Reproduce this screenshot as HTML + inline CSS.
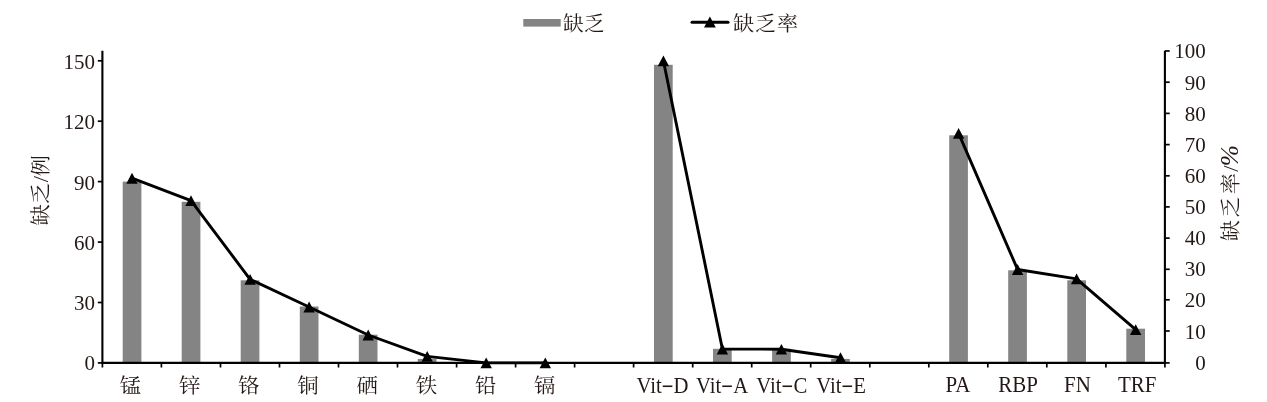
<!DOCTYPE html>
<html lang="zh"><head><meta charset="utf-8"><title>chart</title>
<style>html,body{margin:0;padding:0;background:#fff}body{width:1267px;height:402px;overflow:hidden}svg{display:block}text{font-family:"Liberation Serif","Noto Serif CJK SC",serif;fill:#231815}</style></head><body>
<svg width="1267" height="402" viewBox="0 0 1267 402">
<rect width="1267" height="402" fill="#fff"/>
<rect x="122.7" y="181.6" width="18.7" height="181.3" fill="#848484"/>
<rect x="181.7" y="201.8" width="18.7" height="161.1" fill="#848484"/>
<rect x="240.7" y="280.3" width="18.7" height="82.6" fill="#848484"/>
<rect x="299.8" y="306.5" width="18.7" height="56.4" fill="#848484"/>
<rect x="358.8" y="334.7" width="18.7" height="28.2" fill="#848484"/>
<rect x="417.8" y="358.9" width="18.7" height="4.0" fill="#848484"/>
<rect x="654.0" y="64.8" width="18.7" height="298.1" fill="#848484"/>
<rect x="713.0" y="348.8" width="18.7" height="14.1" fill="#848484"/>
<rect x="772.1" y="348.8" width="18.7" height="14.1" fill="#848484"/>
<rect x="831.1" y="358.9" width="18.7" height="4.0" fill="#848484"/>
<rect x="949.2" y="135.3" width="18.7" height="227.6" fill="#848484"/>
<rect x="1008.2" y="270.3" width="18.7" height="92.6" fill="#848484"/>
<rect x="1067.3" y="280.3" width="18.7" height="82.6" fill="#848484"/>
<rect x="1126.3" y="328.7" width="18.7" height="34.2" fill="#848484"/>
<g stroke="#000" stroke-width="2.1" fill="none">
<path d="M102.4 50.7V362.9H1164.9V50.7"/>
</g>
<g stroke="#000" stroke-width="1.7" fill="none">
<path d="M97.8 362.9H102.4"/>
<path d="M97.8 302.5H102.4"/>
<path d="M97.8 242.1H102.4"/>
<path d="M97.8 181.6H102.4"/>
<path d="M97.8 121.2H102.4"/>
<path d="M97.8 60.8H102.4"/>
<path d="M1164.9 362.9H1169.7"/>
<path d="M1164.9 331.0H1169.7"/>
<path d="M1164.9 299.8H1169.7"/>
<path d="M1164.9 269.3H1169.7"/>
<path d="M1164.9 238.1H1169.7"/>
<path d="M1164.9 206.9H1169.7"/>
<path d="M1164.9 175.8H1169.7"/>
<path d="M1164.9 144.6H1169.7"/>
<path d="M1164.9 113.4H1169.7"/>
<path d="M1164.9 82.2H1169.7"/>
<path d="M1164.9 51.0H1169.7"/>
<path d="M102.4 362.9V367.5"/>
<path d="M161.4 362.9V367.5"/>
<path d="M220.5 362.9V367.5"/>
<path d="M279.5 362.9V367.5"/>
<path d="M338.5 362.9V367.5"/>
<path d="M397.5 362.9V367.5"/>
<path d="M456.6 362.9V367.5"/>
<path d="M515.6 362.9V367.5"/>
<path d="M574.6 362.9V367.5"/>
<path d="M633.6 362.9V367.5"/>
<path d="M692.7 362.9V367.5"/>
<path d="M751.7 362.9V367.5"/>
<path d="M810.7 362.9V367.5"/>
<path d="M869.8 362.9V367.5"/>
<path d="M928.8 362.9V367.5"/>
<path d="M987.8 362.9V367.5"/>
<path d="M1046.8 362.9V367.5"/>
<path d="M1105.9 362.9V367.5"/>
<path d="M1164.9 362.9V367.5"/>
</g>
<polyline fill="none" stroke="#000" stroke-width="2.9" stroke-linejoin="round" stroke-linecap="round" points="132.0,178.2 191.0,200.6 250.1,279.3 309.1,307.0 368.2,335.0 427.2,356.4 486.2,362.9 545.3,362.9"/>
<polyline fill="none" stroke="#000" stroke-width="2.9" stroke-linejoin="round" stroke-linecap="round" points="663.4,60.8 722.4,349.0 781.4,349.2 840.5,357.7"/>
<polyline fill="none" stroke="#000" stroke-width="2.9" stroke-linejoin="round" stroke-linecap="round" points="958.6,133.3 1017.6,269.5 1076.6,278.9 1135.7,329.6"/>
<path d="M132.0 172.8L137.7 183.7L126.3 183.7Z" fill="#000"/>
<path d="M191.0 195.2L196.7 206.0L185.3 206.0Z" fill="#000"/>
<path d="M250.1 273.9L255.8 284.7L244.4 284.7Z" fill="#000"/>
<path d="M309.1 301.6L314.8 312.4L303.4 312.4Z" fill="#000"/>
<path d="M368.2 329.6L373.9 340.4L362.5 340.4Z" fill="#000"/>
<path d="M427.2 351.1L432.9 361.8L421.5 361.8Z" fill="#000"/>
<path d="M486.2 357.5L491.9 368.3L480.5 368.3Z" fill="#000"/>
<path d="M545.3 357.5L551.0 368.3L539.6 368.3Z" fill="#000"/>
<path d="M663.4 55.4L669.1 66.2L657.7 66.2Z" fill="#000"/>
<path d="M722.4 343.6L728.1 354.4L716.7 354.4Z" fill="#000"/>
<path d="M781.4 343.9L787.1 354.6L775.7 354.6Z" fill="#000"/>
<path d="M840.5 352.3L846.2 363.1L834.8 363.1Z" fill="#000"/>
<path d="M958.6 127.9L964.3 138.7L952.9 138.7Z" fill="#000"/>
<path d="M1017.6 264.1L1023.3 274.9L1011.9 274.9Z" fill="#000"/>
<path d="M1076.6 273.5L1082.3 284.3L1070.9 284.3Z" fill="#000"/>
<path d="M1135.7 324.2L1141.4 335.0L1130.0 335.0Z" fill="#000"/>
<text x="95.0" y="370.1" font-size="21.0" text-anchor="end">0</text>
<text x="95.0" y="309.9" font-size="21.0" text-anchor="end">30</text>
<text x="95.0" y="249.7" font-size="21.0" text-anchor="end">60</text>
<text x="95.0" y="189.5" font-size="21.0" text-anchor="end">90</text>
<text x="95.0" y="129.3" font-size="21.0" text-anchor="end">120</text>
<text x="95.0" y="69.1" font-size="21.0" text-anchor="end">150</text>
<text x="1205.7" y="369.7" font-size="21.0" text-anchor="end">0</text>
<text x="1205.7" y="338.6" font-size="21.0" text-anchor="end">10</text>
<text x="1205.7" y="307.4" font-size="21.0" text-anchor="end">20</text>
<text x="1205.7" y="276.3" font-size="21.0" text-anchor="end">30</text>
<text x="1205.7" y="245.2" font-size="21.0" text-anchor="end">40</text>
<text x="1205.7" y="214.1" font-size="21.0" text-anchor="end">50</text>
<text x="1205.7" y="182.9" font-size="21.0" text-anchor="end">60</text>
<text x="1205.7" y="151.8" font-size="21.0" text-anchor="end">70</text>
<text x="1205.7" y="120.7" font-size="21.0" text-anchor="end">80</text>
<text x="1205.7" y="89.5" font-size="21.0" text-anchor="end">90</text>
<text x="1205.7" y="58.4" font-size="21.0" text-anchor="end">100</text>
<text transform="translate(130.4,393.4) scale(1.05,1)" font-size="20.4" text-anchor="middle">锰</text>
<text transform="translate(189.6,393.4) scale(1.05,1)" font-size="20.4" text-anchor="middle">锌</text>
<text transform="translate(248.8,393.4) scale(1.05,1)" font-size="20.4" text-anchor="middle">铬</text>
<text transform="translate(308.0,393.4) scale(1.05,1)" font-size="20.4" text-anchor="middle">铜</text>
<text transform="translate(367.2,393.4) scale(1.05,1)" font-size="20.4" text-anchor="middle">硒</text>
<text transform="translate(426.4,393.4) scale(1.05,1)" font-size="20.4" text-anchor="middle">铁</text>
<text transform="translate(485.6,393.4) scale(1.05,1)" font-size="20.4" text-anchor="middle">铅</text>
<text transform="translate(544.8,393.4) scale(1.05,1)" font-size="20.4" text-anchor="middle">镉</text>
<text transform="translate(662.5,393.2) scale(0.91,1)" font-size="22.8" text-anchor="middle">Vit<tspan dy="1.1" font-weight="bold">−</tspan><tspan dy="-1.1">D</tspan></text>
<text transform="translate(722.1,393.2) scale(0.91,1)" font-size="22.8" text-anchor="middle">Vit<tspan dy="1.1" font-weight="bold">−</tspan><tspan dy="-1.1">A</tspan></text>
<text transform="translate(781.8,393.2) scale(0.91,1)" font-size="22.8" text-anchor="middle">Vit<tspan dy="1.1" font-weight="bold">−</tspan><tspan dy="-1.1">C</tspan></text>
<text transform="translate(841.1,393.2) scale(0.91,1)" font-size="22.8" text-anchor="middle">Vit<tspan dy="1.1" font-weight="bold">−</tspan><tspan dy="-1.1">E</tspan></text>
<text transform="translate(957.9,392.4) scale(0.945,1)" font-size="22.2" text-anchor="middle">PA</text>
<text transform="translate(1018.0,392.4) scale(0.945,1)" font-size="22.2" text-anchor="middle">RBP</text>
<text transform="translate(1077.4,392.4) scale(0.945,1)" font-size="22.2" text-anchor="middle">FN</text>
<text transform="translate(1137.2,392.4) scale(0.945,1)" font-size="22.2" text-anchor="middle">TRF</text>
<text transform="translate(47.8,225.6) rotate(-90) scale(1.04,1)" font-size="20.4" letter-spacing="0.3">缺乏<tspan dx="0.3" font-size="21.5">/</tspan><tspan dx="-0.6">例</tspan></text>
<text transform="translate(1238,241) rotate(-90) scale(1.04,1)" font-size="20" letter-spacing="2.6">缺乏率<tspan dx="-1.2" font-size="21.5" letter-spacing="-0.6">/</tspan><tspan font-style="italic" font-size="24.5" letter-spacing="0">%</tspan></text>
<rect x="523.3" y="19" width="37.4" height="7.6" fill="#848484"/>
<text transform="translate(563,30.6) scale(1.02,1)" font-size="20.3" letter-spacing="0.3">缺乏</text>
<path d="M692 22.3H728" stroke="#000" stroke-width="3" stroke-linecap="round"/>
<path d="M709.9 16.5L715.8 27.4H704Z" fill="#000"/>
<text transform="translate(733,30.6) scale(1.04,1)" font-size="20.3" letter-spacing="0.9">缺乏率</text>
</svg></body></html>
